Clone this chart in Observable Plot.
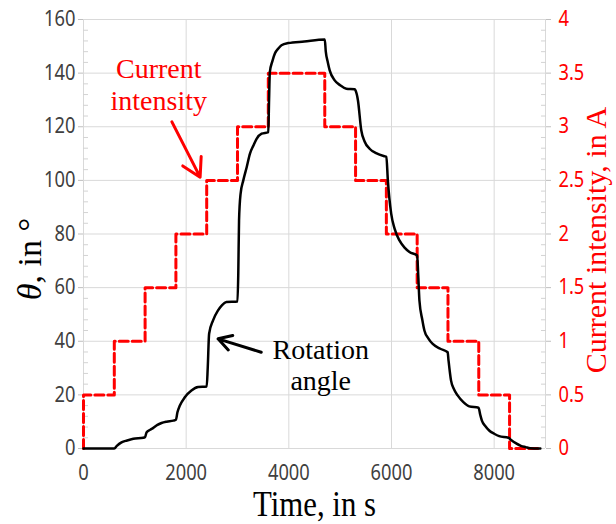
<!DOCTYPE html>
<html><head><meta charset="utf-8">
<script src="https://cdn.jsdelivr.net/npm/d3@7"></script>
<script src="https://cdn.jsdelivr.net/npm/@observablehq/plot@0.6"></script>
<style>body{margin:0;background:#fff}</style>
</head><body><div id="chart"></div>
<script>
// Rotation angle θ (°) vs time (s)
const timeS = [0,600,650,740,850,970,1165,1200,1230,1300,1360,1440,1520,1620,1750,1800,1830,1877,1974,2103,2233,2400,2420,2447,2524,2621,2700,2783,3000,3015,3030,3060,3113,3180,3243,3310,3372,3470,3600,3615,3630,3680,3728,3800,3857,3987,4300,4700,4720,4760,4796,4893,5000,5120,5282,5300,5346,5411,5476,5573,5700,5864,5900,5929,5994,6060,6155,6250,6350,6500,6520,6544,6600,6641,6720,6803,6950,7094,7110,7159,7220,7288,7400,7515,7696,7730,7761,7830,7903,8000,8097,8278,8330,8421,8520,8615,8700,8900];
const thetaDeg = [0,0,1,2.3,3,3.6,4,4.3,6.1,7,7.7,8.8,9.5,10,10.4,10.7,13.5,16,19.1,21.6,22.9,23.1,30,42.8,47.8,51.5,53.5,54.6,54.8,65,85,95,100,105,110,113,115.5,117.4,118,130,140.4,144.5,147.3,149.3,150.4,151.2,151.8,152.5,148,144,141,137.3,135.5,134.2,134,133.5,129.9,118.7,114.5,111.8,110.2,109,108.8,100,87.6,82,77.6,75,73.3,72,65,55.2,48,44,41,39,37.2,35.9,33,25.4,22,19.8,17.3,15.7,15.2,12.5,10.4,8.3,6.7,5.5,4.6,4,3.2,2,1,0.5,0.1,0];
// Current intensity (A) steps
const stepTimeS = [0,0,600,1200,1800,2400,3000,3600,4700,5300,5900,6500,7100,7700,8300,8900];
const currentA  = [0,0.5,1,1.5,2,2.5,3,3.5,3,2.5,2,1.5,1,0.5,0,0];
// ticks
const xTicks = [0,2000,4000,6000,8000];
const xMax = 9000;
const thetaTicks = [0,20,40,60,80,100,120,140,160];
const thetaMinorTicks = [4,8,12,16,24,28,32,36,44,48,52,56,64,68,72,76,84,88,92,96,104,108,112,116,124,128,132,136,144,148,152,156];
const currentTicks = [0,0.5,1,1.5,2,2.5,3,3.5,4];
const currentMinorTicks = [0.1,0.2,0.3,0.4,0.6,0.7,0.8,0.9,1.1,1.2,1.3,1.4,1.6,1.7,1.8,1.9,2.1,2.2,2.3,2.4,2.6,2.7,2.8,2.9,3.1,3.2,3.3,3.4,3.6,3.7,3.8,3.9];
const DEG_PER_AMP = 40; // right axis 0–4 A shares the 0–160° scale

// annotations
const curLabel = {text: "Current\nintensity", t: 1466, v: 136};
const rotLabel = {text: "Rotation\nangle", t: 4621, v: 31.2};
const curArrow = {t1: 1722, v1: 121.8, t2: 2272, v2: 101.2};
const rotArrow = {t1: 3462, v1: 35.9, t2: 2621, v2: 40.9};

const thetaData = timeS.map((t, i) => ({t, v: thetaDeg[i]}));
const currentData = stepTimeS.map((t, i) => ({t, a: currentA[i]}));
const serif = "'Liberation Serif', 'Times New Roman', serif";
const sans = "'Noto Sans', 'Open Sans', sans-serif";

const chart = Plot.plot({
  width: 616, height: 524,
  marginLeft: 83, marginRight: 71, marginTop: 19, marginBottom: 76,
  style: {background: "#fff", fontFamily: sans},
  x: {domain: [0, xMax]},
  y: {domain: [0, 160]},
  marks: [
    Plot.gridX([...xTicks, xMax], {stroke: "#d9d9d9", strokeOpacity: 1}),
    Plot.gridY(thetaTicks, {stroke: "#d9d9d9", strokeOpacity: 1}),
    Plot.axisY(thetaMinorTicks, {anchor: "left", tickSize: 5, dx: 5, stroke: "#d3d3d3", tickFormat: () => "", label: null}),
    Plot.axisY(currentMinorTicks.map(a => a * DEG_PER_AMP), {anchor: "right", tickSize: 5, dx: -5, stroke: "#d3d3d3", tickFormat: () => "", label: null}),
    Plot.axisY(thetaTicks, {anchor: "left", tickSize: 5, tickPadding: 3, stroke: "#bfbfbf", fill: "#404040", fontSize: 21, label: null}),
    Plot.axisY(currentTicks.map(a => a * DEG_PER_AMP), {anchor: "right", tickSize: 5, tickPadding: 8, tickFormat: d => String(d / DEG_PER_AMP), stroke: "#bfbfbf", fill: "#ff0000", fontSize: 21, label: null}),
    Plot.axisX(xTicks, {tickSize: 0, tickPadding: 17, tickFormat: d => String(d), fill: "#404040", fontSize: 21, label: null}),
    Plot.line(currentData, {x: "t", y: d => d.a * DEG_PER_AMP, curve: "step-after", stroke: "#ff0000", strokeWidth: 3, strokeDasharray: "9,4"}),
    Plot.line(thetaData, {x: "t", y: "v", curve: "monotone-x", stroke: "#000", strokeWidth: 2.5}),
    Plot.arrow([curArrow], {x1: "t1", y1: "v1", x2: "t2", y2: "v2", stroke: "#ff0000", strokeWidth: 3, headLength: 14}),
    Plot.arrow([rotArrow], {x1: "t1", y1: "v1", x2: "t2", y2: "v2", stroke: "#000", strokeWidth: 3, headLength: 14}),
    Plot.text([curLabel], {x: "t", y: "v", text: "text", fill: "#ff0000", fontSize: 28, fontFamily: serif, lineHeight: 1.15}),
    Plot.text([rotLabel], {x: "t", y: "v", text: "text", fill: "#000", fontSize: 28, fontFamily: serif, lineHeight: 1.1}),
    Plot.text(["Time, in s"], {frameAnchor: "bottom", lineAnchor: "bottom", dy: 67, fontSize: 35, fontFamily: serif, fill: "#000"}),
    Plot.text(["Current intensity, in A"], {frameAnchor: "right", textAnchor: "middle", rotate: -90, dx: 51, dy: 6, fontSize: 30, fontFamily: serif, fill: "#ff0000"}),
    Plot.text(["θ, in °"], {frameAnchor: "left", textAnchor: "middle", rotate: -90, dx: -53, dy: 25, fontSize: 34, fontFamily: serif, fill: "#000"})
  ]
});
document.getElementById("chart").appendChild(chart);

// italic theta in the left title
d3.select(chart).selectAll("text").filter(function() { return this.textContent === "θ, in °"; })
  .each(function() {
    const s = d3.select(this);
    s.text(null);
    s.append("tspan").attr("font-style", "italic").text("θ");
    s.append("tspan").text(", in °");
  });

// narrow the tick labels and the x title like the reference typeface
const squeeze = (el, k) => {
  const w = el.getComputedTextLength();
  el.setAttribute("textLength", (w * k).toFixed(1));
  el.setAttribute("lengthAdjust", "spacingAndGlyphs");
};
d3.select(chart).selectAll('g[aria-label$="tick label"] text').each(function() { if (this.textContent) squeeze(this, 0.87); });
d3.select(chart).selectAll("text").filter(function() { return this.textContent === "Time, in s"; }).each(function() { squeeze(this, 0.88); });
</script>
</body></html>
